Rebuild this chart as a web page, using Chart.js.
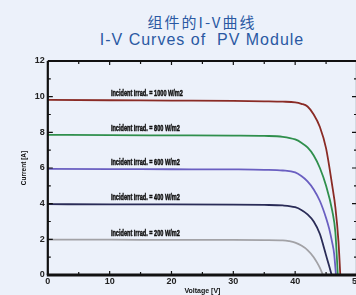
<!DOCTYPE html>
<html>
<head>
<meta charset="utf-8">
<script src="https://cdn.jsdelivr.net/npm/chart.js@4"></script>
<style>
  html, body { margin: 0; padding: 0; background: #ecf1fa; }
  #wrap { position: relative; width: 356px; height: 295px; overflow: hidden; background: #ecf1fa; }
  #grafico { position: absolute; left: 0; top: 0; }
  .titulo { position: absolute; left: 0; width: 404px; text-align: center; color: #2a59a3; white-space: pre; }
  #t1 { top: 12px; font-size: 15px; line-height: 20px; letter-spacing: 2px; font-family: "Noto Sans CJK SC", sans-serif; }
  #t2 { top: 30px; font-size: 16px; line-height: 20px; letter-spacing: 1px; font-family: "Liberation Sans", Arial, sans-serif; }
</style>
</head>
<body>
<div id="wrap">
  <div class="titulo" id="t1">组件的I-V曲线</div>
  <div class="titulo" id="t2">I-V Curves of  PV Module</div>
  <canvas id="grafico" width="368" height="295"></canvas>
</div>
<script>
// Curvas I-V (tensión en V, corriente en A)
const v1000 = [0, 10, 20, 30, 35, 38, 40, 41, 42, 43, 44, 45, 46, 46.5, 47, 47.3];
const i1000 = [9.82, 9.8, 9.78, 9.76, 9.74, 9.72, 9.68, 9.6, 9.45, 9.0, 8.3, 7.1, 5.0, 3.8, 1.9, 0];

const v800 = [0, 10, 20, 30, 35, 38, 40, 41, 42, 43, 44, 45, 46, 46.5, 46.9];
const i800 = [7.86, 7.84, 7.83, 7.82, 7.8, 7.75, 7.6, 7.42, 7.15, 6.7, 6.0, 5.0, 3.6, 2.4, 0];

const v600 = [0, 10, 20, 30, 35, 38, 40, 41, 42, 43, 44, 45, 45.5, 46, 46.3, 46.6];
const i600 = [5.95, 5.94, 5.93, 5.92, 5.9, 5.86, 5.75, 5.55, 5.25, 4.8, 4.15, 3.2, 2.6, 1.8, 1.2, 0];

const v400 = [0, 10, 20, 30, 35, 38, 40, 41, 42, 43, 44, 44.6, 45, 45.5, 45.9];
const i400 = [3.97, 3.96, 3.96, 3.95, 3.93, 3.9, 3.8, 3.65, 3.4, 3.0, 2.3, 1.6, 1.1, 0.5, 0];

const v200 = [0, 10, 20, 30, 35, 38, 39, 40, 41, 42, 43, 43.5, 44, 44.5];
const i200 = [1.98, 1.98, 1.97, 1.97, 1.96, 1.94, 1.9, 1.82, 1.65, 1.4, 1.0, 0.72, 0.4, 0];

const etiquetas = [
  'Incident Irrad. = 1000 W/m2',
  'Incident Irrad. = 800 W/m2',
  'Incident Irrad. = 600 W/m2',
  'Incident Irrad. = 400 W/m2',
  'Incident Irrad. = 200 W/m2'
];
const etiquetaV = 10.2;
const etiquetaI = [9.82, 7.86, 5.95, 3.97, 1.98];

const colores = ['#8a2b25', '#2f8f4c', '#6a5fc1', '#2a2c57', '#a2a2a6'];
const series = [[v1000, i1000], [v800, i800], [v600, i600], [v400, i400], [v200, i200]];

// ✅ Marco y marcas de escala hacia dentro
const marco = {
  id: 'marco',
  afterDatasetsDraw(chart) {
    const { ctx, chartArea: a, scales: { x, y } } = chart;
    ctx.save();
    ctx.strokeStyle = '#111';

    // marcas del eje x (abajo y arriba)
    ctx.lineWidth = 1.2;
    for (let v = 0; v <= 50; v += 5) {
      const px = x.getPixelForValue(v);
      const len = v % 10 === 0 ? 4 : 3;
      ctx.beginPath();
      ctx.moveTo(px, a.bottom); ctx.lineTo(px, a.bottom - len);
      ctx.moveTo(px, a.top); ctx.lineTo(px, a.top + len);
      ctx.stroke();
    }
    // marcas del eje y (izquierda y derecha)
    for (let v = 0; v <= 12; v += 1) {
      const py = y.getPixelForValue(v);
      const len = v % 2 === 0 ? 5 : 3;
      ctx.beginPath();
      ctx.moveTo(a.left, py); ctx.lineTo(a.left + len, py);
      ctx.moveTo(a.right, py); ctx.lineTo(a.right - len, py);
      ctx.stroke();
    }

    ctx.lineWidth = 2.2;
    ctx.beginPath();
    ctx.moveTo(a.left, a.top); ctx.lineTo(a.right, a.top);
    ctx.moveTo(a.left, a.top); ctx.lineTo(a.left, a.bottom);
    ctx.moveTo(a.right, a.top); ctx.lineTo(a.right, a.bottom);
    ctx.stroke();
    ctx.lineWidth = 2.8;
    ctx.beginPath();
    ctx.moveTo(a.left - 1, a.bottom); ctx.lineTo(a.right, a.bottom);
    ctx.stroke();

    // etiquetas de cada curva (letra estrecha y gruesa)
    ctx.fillStyle = '#111';
    ctx.strokeStyle = '#111';
    ctx.lineWidth = 0.5;
    ctx.font = 'bold 9px "Liberation Sans", Arial, sans-serif';
    ctx.textBaseline = 'bottom';
    const escala = 72 / ctx.measureText(etiquetas[0]).width;
    etiquetas.forEach((t, i) => {
      const px = x.getPixelForValue(etiquetaV);
      const py = y.getPixelForValue(etiquetaI[i]) - 2;
      ctx.save();
      ctx.translate(px, py);
      ctx.scale(escala, 1);
      ctx.fillText(t, 0, 0);
      ctx.strokeText(t, 0, 0);
      ctx.restore();
    });
    ctx.restore();
  }
};

const ctx = document.getElementById('grafico').getContext('2d');
new Chart(ctx, {
  type: 'scatter',
  data: {
    datasets: series.map((s, k) => ({
      label: etiquetas[k],
      data: s[0].map((v, j) => ({ x: v, y: s[1][j] })),
      showLine: true,
      borderColor: colores[k],
      borderWidth: 1.8,
      pointRadius: 0,
      cubicInterpolationMode: 'monotone'
    }))
  },
  options: {
    responsive: false,
    animation: false,
    layout: { padding: { top: 61, left: 16, right: 11, bottom: 0 } },
    plugins: {
      legend: { display: false },
      tooltip: { enabled: false }
    },
    scales: {
      x: {
        type: 'linear',
        min: 0, max: 50,
        grid: { display: false, drawTicks: false },
        border: { display: false },
        ticks: { stepSize: 10, color: '#222', padding: 2, font: { size: 9, weight: 'bold', family: 'Liberation Sans', lineHeight: 1 } },
        title: { display: true, text: 'Voltage [V]', color: '#111', padding: { top: 0, bottom: 0 }, font: { size: 7, weight: 'bold', family: 'Liberation Sans', lineHeight: 1 } }
      },
      y: {
        min: 0, max: 12,
        grid: { display: false, drawTicks: false },
        border: { display: false },
        ticks: { stepSize: 2, color: '#222', padding: 3, font: { size: 9, weight: 'bold', family: 'Liberation Sans' } },
        title: { display: true, text: 'Current [A]', color: '#111', padding: 4, font: { size: 6.5, weight: 'bold', family: 'Liberation Sans' } }
      }
    }
  },
  plugins: [marco]
});
</script>
</body>
</html>
